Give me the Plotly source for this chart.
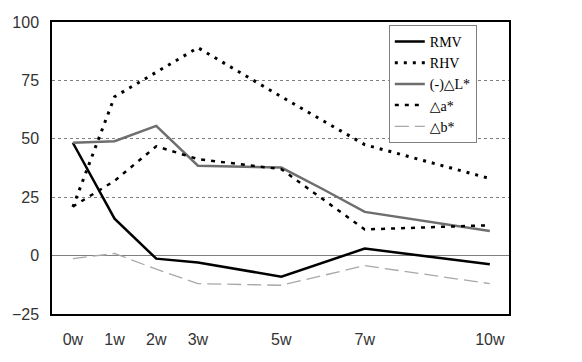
import plotly.graph_objects as go

weeks = [0, 1, 2, 3, 5, 6, 7, 10]
tick_vals = [0, 1, 2, 3, 5, 7, 10]
tick_text = ["0w", "1w", "2w", "3w", "5w", "7w", "10w"]

rmv = [48.3, 15.8, -1.3, -3.0, -9.0, None, 3.0, -3.7]
rhv = [20.8, 68.0, 78.5, 89.0, 68.0, None, 47.5, 33.0]
dL = [48.3, 49.0, 55.5, 38.5, 37.7, 28.4, 18.7, 10.5]
da = [21.0, 32.0, 46.8, 41.3, 37.0, None, 11.2, 13.0]
db = [-1.3, 0.9, -5.8, -12.0, -12.7, None, -4.3, -12.0]

names = ["RMV", "RHV", "(-)△L*", "△a*", "△b*"]

fig = go.Figure()
styles = [
    (rmv, dict(color="black", width=2.5, dash="solid")),
    (rhv, dict(color="black", width=3, dash="3px,6px")),
    (dL, dict(color="#6e6e6e", width=2.5, dash="solid")),
    (da, dict(color="black", width=2.5, dash="4px,6px")),
    (db, dict(color="#a8a8a8", width=1.3, dash="14px,6px")),
]
for name, (vals, line) in zip(names, styles):
    fig.add_trace(go.Scatter(x=weeks, y=vals, mode="lines", name=name,
                             line=line, connectgaps=True))

# page has an 8px body margin, so the figure is sized to fit inside the window
fig.update_layout(
    width=574, height=354,
    margin=dict(l=44, r=73, t=14, b=48, autoexpand=False),
    paper_bgcolor="white", plot_bgcolor="white",
    font=dict(family="Liberation Sans, Arial", size=16, color="#333"),
    legend=dict(
        x=0.737, y=0.99, xanchor="left", yanchor="top",
        bordercolor="#808080", borderwidth=1,
        font=dict(family="Liberation Serif, DejaVu Serif, Times New Roman", size=14, color="black"),
        bgcolor="white",
    ),
    showlegend=True,
)
fig.update_xaxes(
    range=[-0.5, 10.46], tickmode="array", tickvals=tick_vals, ticktext=tick_text,
    showgrid=False, zeroline=False, showline=True, linecolor="black", linewidth=1.5,
    mirror=True, ticks="", ticklabelstandoff=10, automargin=False,
)
fig.update_yaxes(
    range=[-25, 100], tickmode="array", tickvals=[-25, 0, 25, 50, 75, 100],
    showgrid=True, gridcolor="#808080", gridwidth=1, griddash="dot",
    zeroline=True, zerolinecolor="#808080", zerolinewidth=1,
    showline=True, linecolor="black", linewidth=1.5, mirror=True, ticks="",
    ticklabelstandoff=8, automargin=False,
)

fig.write_html("out.html")
